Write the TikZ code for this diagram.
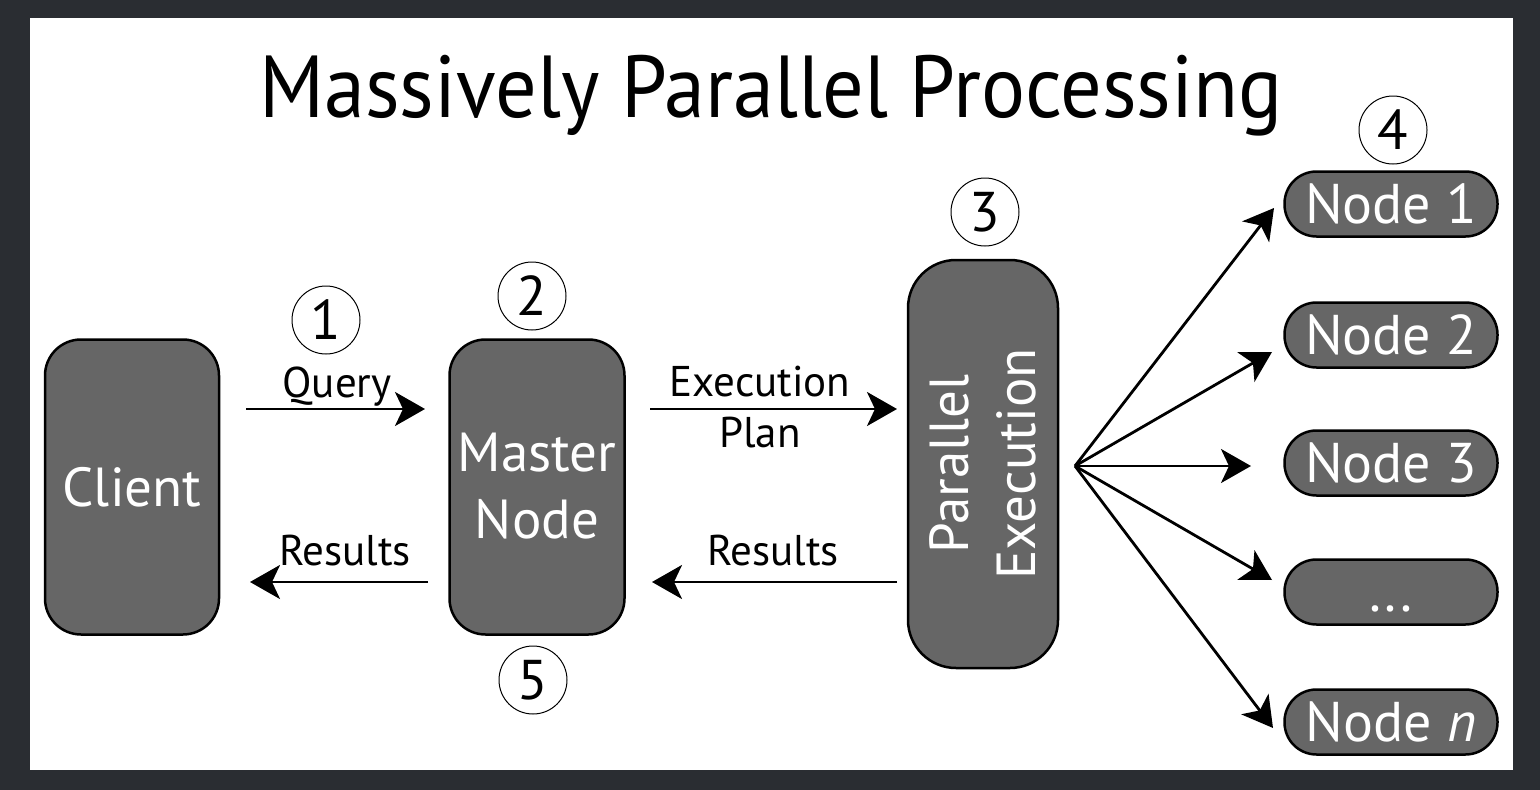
\documentclass[tikz,border=0pt]{standalone}
\usepackage{fontspec}
\setmainfont{PT Sans}
\newfontfamily\titlefont[FakeStretch=0.935]{PT Sans}
\usetikzlibrary{arrows.meta,calc}
\definecolor{bgdark}{HTML}{2A2D32}
\definecolor{boxgray}{HTML}{666666}
\begin{document}
\begin{tikzpicture}[x=1pt,y=-1pt,
  box/.style={draw=black, line width=2.5pt, fill=boxgray, rounded corners=36pt, text=white, align=center, inner sep=0pt, font=\fontsize{55}{67}\selectfont},
  pill/.style={draw=black, line width=2.5pt, fill=boxgray, rounded corners=32pt, minimum width=213pt, minimum height=65pt, text=white, font=\fontsize{56}{60}\selectfont, inner sep=0pt, text height=39pt, text depth=0pt},
  num/.style={draw=black, line width=1pt, circle, minimum size=68pt, inner sep=0pt, font=\fontsize{56}{56}\selectfont},
  lbl/.style={font=\fontsize{43}{48}\selectfont, anchor=base, inner sep=0pt},
  arr/.style={line width=2.8pt, -{Stealth[length=30pt,width=34pt,inset=8pt]}}
]
\fill[bgdark] (0,0) rectangle (1540,790);
\fill[white] (30,18) rectangle (1513,770);
\useasboundingbox (0,0) rectangle (1540,790);

\node[font=\titlefont\fontsize{88}{96}\selectfont, anchor=base, inner sep=0pt] (title) at (771,117) {Massively Parallel Processing};

\node[box, minimum width=174pt, minimum height=295pt] (client) at (132,487) {Client};
\node[box, minimum width=175pt, minimum height=295pt] (master) at (537,487) {\raisebox{3pt}{Master}\\\raisebox{3pt}{Node}};
\node[box, rotate=90, minimum width=408pt, minimum height=150pt, rounded corners=48pt] (pe) at (983,464) {Parallel\\Execution};

\node[pill] (n1) at (1391,204) {Node 1};
\node[pill] (n2) at (1391,335) {Node 2};
\node[pill] (n3) at (1391,463) {Node 3};
\node[pill] (ndots) at (1391,592) {...};
\node[pill] (nn) at (1391,722) {Node \textit{n}};

\node[num] (c1) at (326,320) {1};
\node[num] (c2) at (532,296) {2};
\node[num] (c3) at (985,212) {3};
\node[num] (c4) at (1393,130) {4};
\node[num] (c5) at (533,680) {5};

\coordinate (qs) at (246,409);
\coordinate (qe) at (425,409);
\coordinate (rs) at (428,582);
\coordinate (re) at (250,582);
\coordinate (es) at (650,409);
\coordinate (ee) at (897,409);
\coordinate (r2s) at (897,582);
\coordinate (r2e) at (652,582);
\draw[arr] (qs) -- (qe);
\draw[arr] (rs) -- (re);
\draw[arr] (es) -- (ee);
\draw[arr] (r2s) -- (r2e);

\node[lbl] (lq) at (337,397) {Query};
\node[lbl] (lr1) at (345,565) {Results};
\node[lbl] (le) at (760,396) {Execution};
\node[lbl] (lp) at (760,447) {Plan};
\node[lbl] (lr2) at (773,565) {Results};

\coordinate (fan) at (1075,466);
\coordinate (t1) at (1274,208);
\coordinate (t2) at (1272,352);
\coordinate (t3) at (1251,466);
\coordinate (t4) at (1272,580);
\coordinate (t5) at (1273,728);
\foreach \t in {t1,t2,t3,t4,t5} \draw[arr] (fan) -- (\t);
\end{tikzpicture}
\end{document}
